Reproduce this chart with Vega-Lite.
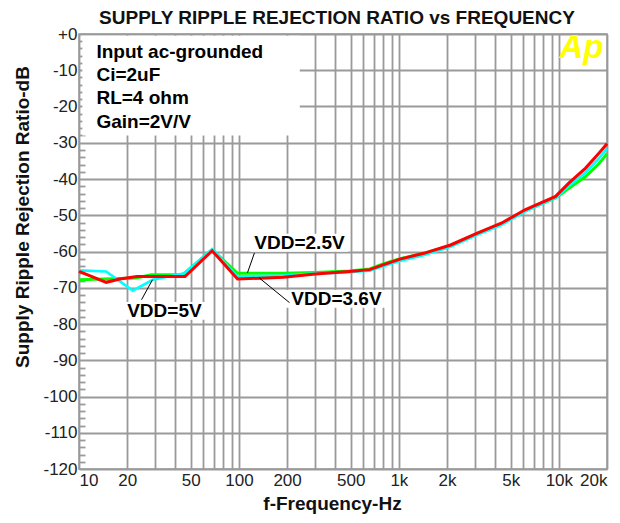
{
  "$schema": "https://vega.github.io/schema/vega-lite/v6.json",
  "width": 528,
  "height": 435,
  "autosize": "none",
  "padding": {"left": 79, "top": 34, "right": 13, "bottom": 54},
  "background": "white",
  "title": {"text": "SUPPLY RIPPLE REJECTION RATIO vs FREQUENCY", "font": "Liberation Sans", "fontSize": 19, "fontWeight": "bold", "color": "#111111", "anchor": "middle", "offset": -3, "dx": -6},
  "config": {"view": {"stroke": "#9a9a9a", "strokeWidth": 1.5}},
  "datasets": {
    "curves": [
      {"f": 10, "db": -67.8, "vdd": "2.5V"}, {"f": 22.8, "db": -67.3, "vdd": "2.5V"}, {"f": 28.3, "db": -66.4, "vdd": "2.5V"}, {"f": 44.5, "db": -66.4, "vdd": "2.5V"}, {"f": 68, "db": -59.5, "vdd": "2.5V"}, {"f": 98, "db": -66.0, "vdd": "2.5V"}, {"f": 190, "db": -66.0, "vdd": "2.5V"}, {"f": 300, "db": -65.8, "vdd": "2.5V"}, {"f": 490, "db": -65.4, "vdd": "2.5V"}, {"f": 657, "db": -64.8, "vdd": "2.5V"}, {"f": 796, "db": -63.4, "vdd": "2.5V"}, {"f": 1016, "db": -62.0, "vdd": "2.5V"}, {"f": 1430, "db": -60.5, "vdd": "2.5V"}, {"f": 2105, "db": -58.3, "vdd": "2.5V"}, {"f": 3093, "db": -55.0, "vdd": "2.5V"}, {"f": 4366, "db": -52.4, "vdd": "2.5V"}, {"f": 6139, "db": -48.8, "vdd": "2.5V"}, {"f": 9540, "db": -45.2, "vdd": "2.5V"}, {"f": 11490, "db": -42.6, "vdd": "2.5V"}, {"f": 14690, "db": -39.3, "vdd": "2.5V"}, {"f": 17800, "db": -35.8, "vdd": "2.5V"}, {"f": 20000, "db": -33.0, "vdd": "2.5V"},
      {"f": 10, "db": -65.2, "vdd": "5V"}, {"f": 14.8, "db": -65.5, "vdd": "5V"}, {"f": 21.7, "db": -70.8, "vdd": "5V"}, {"f": 28.9, "db": -67.8, "vdd": "5V"}, {"f": 45.6, "db": -66.0, "vdd": "5V"}, {"f": 68, "db": -59.3, "vdd": "5V"}, {"f": 98, "db": -66.9, "vdd": "5V"}, {"f": 190, "db": -66.6, "vdd": "5V"}, {"f": 300, "db": -66.1, "vdd": "5V"}, {"f": 490, "db": -65.7, "vdd": "5V"}, {"f": 657, "db": -65.3, "vdd": "5V"}, {"f": 796, "db": -64.1, "vdd": "5V"}, {"f": 1016, "db": -62.6, "vdd": "5V"}, {"f": 1430, "db": -61.0, "vdd": "5V"}, {"f": 2105, "db": -58.7, "vdd": "5V"}, {"f": 3093, "db": -55.4, "vdd": "5V"}, {"f": 4366, "db": -52.7, "vdd": "5V"}, {"f": 6139, "db": -49.0, "vdd": "5V"}, {"f": 9540, "db": -45.2, "vdd": "5V"}, {"f": 11490, "db": -42.0, "vdd": "5V"}, {"f": 14690, "db": -38.2, "vdd": "5V"}, {"f": 17800, "db": -34.3, "vdd": "5V"}, {"f": 20000, "db": -31.6, "vdd": "5V"},
      {"f": 10, "db": -65.5, "vdd": "3.6V"}, {"f": 14.8, "db": -68.5, "vdd": "3.6V"}, {"f": 18, "db": -67.6, "vdd": "3.6V"}, {"f": 23, "db": -66.9, "vdd": "3.6V"}, {"f": 46, "db": -66.9, "vdd": "3.6V"}, {"f": 68, "db": -59.8, "vdd": "3.6V"}, {"f": 98, "db": -67.6, "vdd": "3.6V"}, {"f": 190, "db": -67.1, "vdd": "3.6V"}, {"f": 300, "db": -66.2, "vdd": "3.6V"}, {"f": 490, "db": -65.5, "vdd": "3.6V"}, {"f": 657, "db": -65.0, "vdd": "3.6V"}, {"f": 796, "db": -63.7, "vdd": "3.6V"}, {"f": 1016, "db": -62.1, "vdd": "3.6V"}, {"f": 1430, "db": -60.5, "vdd": "3.6V"}, {"f": 2105, "db": -58.2, "vdd": "3.6V"}, {"f": 3093, "db": -54.9, "vdd": "3.6V"}, {"f": 4366, "db": -52.2, "vdd": "3.6V"}, {"f": 6139, "db": -48.5, "vdd": "3.6V"}, {"f": 9540, "db": -44.8, "vdd": "3.6V"}, {"f": 11490, "db": -41.2, "vdd": "3.6V"}, {"f": 14690, "db": -37.0, "vdd": "3.6V"}, {"f": 17800, "db": -32.9, "vdd": "3.6V"}, {"f": 20000, "db": -30.3, "vdd": "3.6V"}
    ],
    "boxes": [
      {"f1": 10.5, "f2": 240, "db1": -0.5, "db2": -28},
      {"f1": 19.3, "f2": 61.7, "db1": -73.9, "db2": -78.8},
      {"f1": 118, "f2": 482, "db1": -55.1, "db2": -60.1},
      {"f1": 196, "f2": 857, "db1": -70.6, "db2": -75.5}
    ],
    "leaders": [
      {"f1": 28.8, "db1": -67.8, "f2": 24.6, "db2": -73.3},
      {"f1": 113, "db1": -65.9, "f2": 125, "db2": -60.4},
      {"f1": 134, "db1": -67.3, "f2": 207, "db2": -74.1}
    ],
    "conditions": [
      {"f": 12.85, "db": -4.9, "text": "Input ac-grounded"},
      {"f": 12.85, "db": -11.3, "text": "Ci=2uF"},
      {"f": 12.85, "db": -17.7, "text": "RL=4 ohm"},
      {"f": 12.85, "db": -24.2, "text": "Gain=2V/V"}
    ],
    "labels": [
      {"f": 34.2, "db": -76.3, "text": "VDD=5V"},
      {"f": 239, "db": -57.6, "text": "VDD=2.5V"},
      {"f": 407, "db": -73.0, "text": "VDD=3.6V"}
    ],
    "logo": [{"f": 13820, "db": -6.7, "text": "Ap"}]
  },
  "encoding": {
    "x": {
      "field": "f", "type": "quantitative",
      "scale": {"type": "log", "domain": [10, 20000], "nice": false},
      "axis": {
        "values": [10, 20, 30, 40, 50, 60, 70, 80, 90, 100, 200, 300, 400, 500, 600, 700, 800, 900, 1000, 2000, 3000, 4000, 5000, 6000, 7000, 8000, 9000, 10000, 20000],
        "labelExpr": "indexof([10,20,50,100,200,500,1000,2000,5000,10000,20000], datum.value) >= 0 ? (datum.value >= 1000 ? (datum.value/1000) + 'k' : datum.value + '') : ''",
        "labelFlush": true, "labelOverlap": false, "labelFont": "Liberation Sans", "labelFontSize": 17, "labelColor": "#222222", "labelPadding": 3,
        "ticks": false, "domain": false,
        "grid": true, "gridColor": "#9a9a9a", "gridWidth": 1.8,
        "title": "f-Frequency-Hz", "titleFont": "Liberation Sans", "titleFontSize": 19, "titleFontWeight": "bold", "titleColor": "#111111", "titlePadding": 6, "titleX": 253
      }
    },
    "y": {
      "field": "db", "type": "quantitative",
      "scale": {"domain": [-120, 0], "nice": false},
      "axis": {
        "values": [-120, -118, -116, -114, -112, -110, -108, -106, -104, -102, -100, -98, -96, -94, -92, -90, -88, -86, -84, -82, -80, -78, -76, -74, -72, -70, -68, -66, -64, -62, -60, -58, -56, -54, -52, -50, -48, -46, -44, -42, -40, -38, -36, -34, -32, -30, -28, -26, -24, -22, -20, -18, -16, -14, -12, -10, -8, -6, -4, -2, 0],
        "labelExpr": "datum.value % 10 == 0 ? (datum.value == 0 ? '+0' : '-' + abs(datum.value)) : ''",
        "labelOverlap": false, "labelFont": "Liberation Sans", "labelFontSize": 17, "labelColor": "#222222", "labelPadding": 2,
        "ticks": false,
        "domain": false,
        "grid": true, "gridColor": "#9a9a9a", "gridWidth": 1.8,
        "gridDash": {"condition": {"test": "datum.value % 10 == 0", "value": []}, "value": [6, 2000]},
        "title": "Supply Ripple Rejection Ratio-dB", "titleFont": "Liberation Sans", "titleFontSize": 19, "titleFontWeight": "bold", "titleColor": "#111111", "titleX": -56.5, "titleY": 182.5, "titleBaseline": "middle"
      }
    }
  },
  "layer": [
    {
      "data": {"name": "boxes"},
      "mark": {"type": "rect", "fill": "white", "stroke": null},
      "encoding": {"x": {"field": "f1", "type": "quantitative"}, "x2": {"field": "f2"}, "y": {"field": "db1", "type": "quantitative"}, "y2": {"field": "db2"}}
    },
    {
      "data": {"name": "curves"},
      "transform": [{"filter": "datum.vdd == '2.5V'"}],
      "mark": {"type": "line", "color": "#00ff00", "strokeWidth": 3}
    },
    {
      "data": {"name": "curves"},
      "transform": [{"filter": "datum.vdd == '5V'"}],
      "mark": {"type": "line", "color": "#00ffff", "strokeWidth": 2.6}
    },
    {
      "data": {"name": "curves"},
      "transform": [{"filter": "datum.vdd == '3.6V'"}],
      "mark": {"type": "line", "color": "#ff0000", "strokeWidth": 3}
    },
    {
      "data": {"name": "leaders"},
      "mark": {"type": "rule", "color": "#000000", "strokeWidth": 1},
      "encoding": {"x": {"field": "f1", "type": "quantitative"}, "x2": {"field": "f2"}, "y": {"field": "db1", "type": "quantitative"}, "y2": {"field": "db2"}}
    },
    {
      "data": {"name": "conditions"},
      "mark": {"type": "text", "align": "left", "baseline": "middle", "font": "Liberation Sans", "fontSize": 19, "fontWeight": "bold", "color": "#000000"},
      "encoding": {"text": {"field": "text"}}
    },
    {
      "data": {"name": "labels"},
      "mark": {"type": "text", "align": "center", "baseline": "middle", "font": "Liberation Sans", "fontSize": 19, "fontWeight": "bold", "color": "#000000"},
      "encoding": {"text": {"field": "text"}}
    },
    {
      "data": {"name": "logo"},
      "mark": {"type": "text", "align": "center", "baseline": "alphabetic", "font": "Liberation Sans", "fontSize": 33, "fontWeight": "bold", "fontStyle": "italic", "color": "#ffff00"},
      "encoding": {"text": {"field": "text"}}
    }
  ]
}
